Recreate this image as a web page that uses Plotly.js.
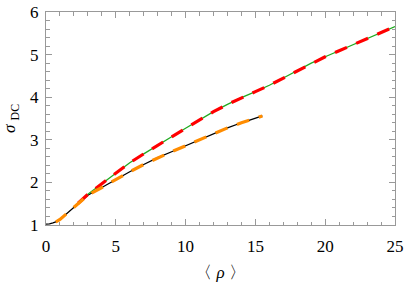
<!DOCTYPE html>
<html><head><meta charset="utf-8">
<script src="https://cdn.plot.ly/plotly-3.0.1.min.js"></script>
<style>html,body{margin:0;padding:0;background:#fff;}#chart{width:407px;height:286px;}</style>
</head><body><div id="chart"></div>
<script>
// Black curve (solid) with orange dashed overlay
const xBlack = [0, 0.25, 0.5, 0.75, 1, 1.5, 2, 2.5, 3, 4, 5, 6, 7, 8, 9, 10, 11, 12, 13, 14, 15, 15.5];
const yBlack = [1.02, 1.025, 1.05, 1.08, 1.13, 1.27, 1.42, 1.57, 1.70, 1.88, 2.07, 2.25, 2.42, 2.58, 2.72, 2.86, 3.00, 3.15, 3.28, 3.40, 3.51, 3.56];
const xOrange = [0.7, 0.75, 1, 1.5, 2, 2.5, 3, 4, 5, 6, 7, 8, 9, 10, 11, 12, 13, 14, 15, 15.5];
const yOrange = [1.075, 1.08, 1.13, 1.27, 1.42, 1.57, 1.70, 1.88, 2.07, 2.25, 2.42, 2.58, 2.72, 2.86, 3.00, 3.15, 3.28, 3.40, 3.51, 3.56];
// Green curve (solid) with red dashed overlay
const xGreen = [2, 2.5, 3, 4, 5, 6, 7, 8, 9, 10, 11, 12, 13, 14, 15, 16, 17, 18, 19, 20, 21, 22, 23, 24, 25];
const yGreen = [1.42, 1.57, 1.72, 1.97, 2.22, 2.46, 2.67, 2.88, 3.07, 3.27, 3.47, 3.66, 3.83, 3.99, 4.13, 4.28, 4.45, 4.62, 4.80, 4.95, 5.09, 5.23, 5.37, 5.51, 5.66];
const xRed = [2.3, 2.5, 3, 4, 5, 6, 7, 8, 9, 10, 11, 12, 13, 14, 15, 16, 17, 18, 19, 20, 21, 22, 23, 24, 25];
const yRed = [1.51, 1.57, 1.72, 1.97, 2.22, 2.46, 2.67, 2.88, 3.07, 3.27, 3.47, 3.66, 3.83, 3.99, 4.13, 4.28, 4.45, 4.62, 4.80, 4.95, 5.09, 5.23, 5.37, 5.51, 5.66];
const xTickVals = [0, 5, 10, 15, 20, 25];
const yTickVals = [1, 2, 3, 4, 5, 6];

const serif = '"Times New Roman", "Liberation Serif", serif';

const traces = [
  {x: xBlack, y: yBlack, mode: 'lines', line: {color: '#000000', width: 1.3}, hoverinfo: 'skip'},
  {x: xGreen, y: yGreen, mode: 'lines', line: {color: '#1faa1f', width: 1.3}, hoverinfo: 'skip'},
  {x: xRed, y: yRed, mode: 'lines', line: {color: '#ff0000', width: 3.2, dash: '13px,10px'}, hoverinfo: 'skip'},
  {x: xOrange, y: yOrange, mode: 'lines', line: {color: '#ff8c00', width: 3.2, dash: '13px,10px'}, hoverinfo: 'skip'}
];

const axisCommon = {
  showgrid: false, zeroline: false, showline: true, linecolor: '#999999', linewidth: 1,
  mirror: 'allticks', ticks: 'inside', ticklen: 6, tickwidth: 1, tickcolor: '#999999',
  tickfont: {family: serif, size: 17, color: '#000'}
};

const layout = {
  width: 407, height: 286,
  margin: {l: 46, r: 12, t: 12, b: 61},
  paper_bgcolor: '#fff', plot_bgcolor: '#fff',
  font: {family: serif, color: '#000'},
  showlegend: false,
  xaxis: Object.assign({}, axisCommon, {
    range: [0, 25], tickvals: xTickVals, ticktext: xTickVals.map(String), ticklabelstandoff: 6,
    minor: {dtick: 1, tick0: 0, ticks: 'inside', ticklen: 3.5, tickcolor: '#999999', tickwidth: 1},
    title: {text: '〈 <i>ρ</i> 〉', font: {family: serif, size: 17, color: '#000'}, standoff: 10}
  }),
  yaxis: Object.assign({}, axisCommon, {
    range: [1, 6], tickvals: yTickVals, ticktext: yTickVals.map(String), ticklabelstandoff: 3,
    minor: {dtick: 0.2, tick0: 0, ticks: 'inside', ticklen: 3.5, tickcolor: '#999999', tickwidth: 1},
    title: {text: '<i>σ</i> <sub>DC</sub>', font: {family: serif, size: 17, color: '#000'}, standoff: 10}
  })
};

Plotly.newPlot('chart', traces, layout, {displayModeBar: false, staticPlot: true});
</script>
</body></html>
